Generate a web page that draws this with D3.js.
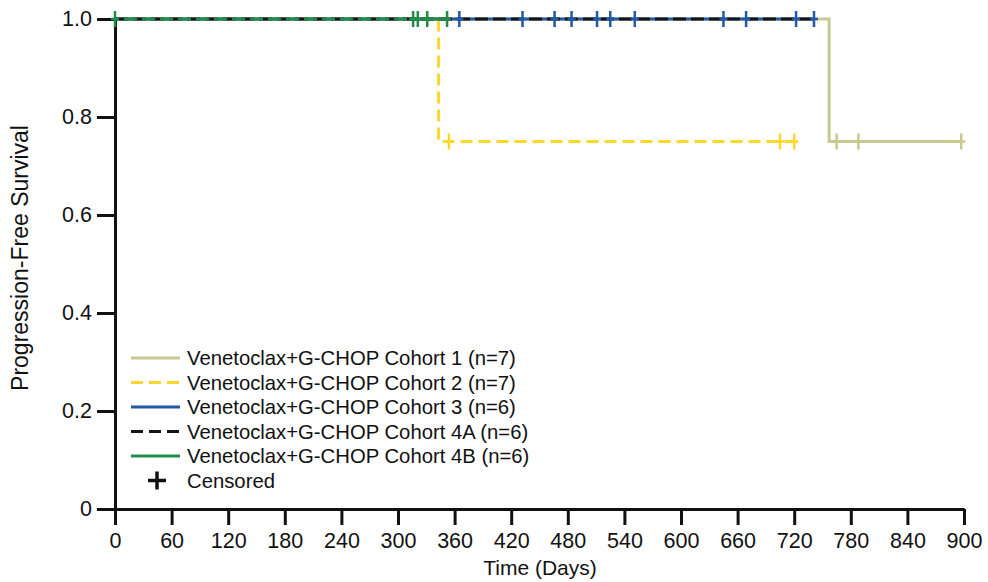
<!doctype html>
<html>
  <head>
    <meta charset="utf-8">
    <title>Progression-Free Survival</title>
    <script src="https://cdnjs.cloudflare.com/ajax/libs/d3/7.8.5/d3.min.js"></script>
    <style>
      body { margin: 0; background: #fff; }
      svg text { font-family: "Liberation Sans", Arial, Helvetica, sans-serif; fill: #111; }
    </style>
  </head>
  <body>
    <div id="chart"></div>
    <script>
      // cohort names (legend order)
      const cohortNames = [
        'Venetoclax+G-CHOP Cohort 1 (n=7)',
        'Venetoclax+G-CHOP Cohort 2 (n=7)',
        'Venetoclax+G-CHOP Cohort 3 (n=6)',
        'Venetoclax+G-CHOP Cohort 4A (n=6)',
        'Venetoclax+G-CHOP Cohort 4B (n=6)'
      ];

      // step curves: [day, survival]
      const stepsC1 = [[0, 1], [757, 0.75], [897, 0.75]];
      const stepsC2 = [[0, 1], [343, 0.75], [720, 0.75]];
      const stepsC3 = [[0, 1], [741, 1]];
      const stepsC4A = [[0, 1], [741, 1]];
      const stepsC4B = [[0, 1], [352, 1]];

      // censored times (days)
      const censorC1 = [765, 788, 897];
      const censorC2 = [354, 705, 720];
      const censorC3 = [365, 432, 466, 484, 511, 525, 551, 645, 669, 722, 741];
      const censorC4A = [];
      const censorC4B = [0, 316, 321, 331, 352];

      const xTicks = d3.range(0, 901, 60);
      const yTicks = [0, 0.2, 0.4, 0.6, 0.8, 1.0];

      // styles kept apart from the data
      const colors = ['#c7c98f', '#fdd72b', '#2358a5', '#151515', '#1f8c47'];
      const dashes = [null, '12,6', null, '13,5', '13,5'];
      const dashOffsets = [0, 0, 0, 0, 9];
      const legendDashes = [null, '12,6', null, '12,6', null];

      const allSteps = [stepsC1, stepsC2, stepsC3, stepsC4A, stepsC4B];
      const allCensor = [censorC1, censorC2, censorC3, censorC4A, censorC4B];

      const width = 988, height = 582;
      const x = d3.scaleLinear().domain([0, 900]).range([115, 964]);
      const y = d3.scaleLinear().domain([0, 1]).range([509, 19]);

      const svg = d3.select('#chart').append('svg')
        .attr('width', width)
        .attr('height', height);

      // axes
      const xAxis = svg.append('g')
        .attr('transform', `translate(0,${y(0)})`)
        .call(d3.axisBottom(x).tickValues(xTicks).tickSize(16).tickSizeOuter(0).tickPadding(8));

      const yAxis = svg.append('g')
        .attr('transform', `translate(${x(0)},0)`)
        .call(d3.axisLeft(y).tickValues(yTicks).tickSize(18).tickSizeOuter(0).tickPadding(5)
          .tickFormat(d => d === 0 ? '0' : d3.format('.1f')(d)));

      [xAxis, yAxis].forEach(g => {
        g.select('.domain').attr('stroke', '#111').attr('stroke-width', 3);
        g.selectAll('.tick line').attr('stroke', '#111').attr('stroke-width', 3);
        g.selectAll('.tick text').attr('font-size', 21.5).attr('font-family', null).attr('fill', '#111');
      });

      // axis titles
      svg.append('text')
        .attr('x', 540)
        .attr('y', 575)
        .attr('text-anchor', 'middle')
        .attr('font-size', 21)
        .text('Time (Days)');

      svg.append('text')
        .attr('transform', `translate(28,258) rotate(-90)`)
        .attr('text-anchor', 'middle')
        .attr('font-size', 23)
        .text('Progression-Free Survival');

      // KM curves
      const line = d3.line()
        .x(d => x(d[0]))
        .y(d => y(d[1]))
        .curve(d3.curveStepAfter);

      svg.append('g').selectAll('path')
        .data(allSteps)
        .join('path')
        .attr('d', d => line(d))
        .attr('fill', 'none')
        .attr('stroke', (d, i) => colors[i])
        .attr('stroke-width', 3)
        .attr('stroke-dasharray', (d, i) => dashes[i])
        .attr('stroke-dashoffset', (d, i) => dashOffsets[i]);

      // survival value at time t for a step curve
      function survAt(steps, t) {
        let s = steps[0][1];
        steps.forEach(p => { if (p[0] <= t) s = p[1]; });
        return s;
      }

      // censor marks
      const censorData = [];
      allCensor.forEach((times, i) => {
        times.forEach(t => censorData.push({ t: t, s: survAt(allSteps[i], t), i: i }));
      });

      const marks = svg.append('g').selectAll('g')
        .data(censorData)
        .join('g')
        .attr('transform', d => `translate(${x(d.t)},${y(d.s)})`)
        .attr('stroke', d => colors[d.i])
        .attr('stroke-width', 2.5);

      marks.append('line').attr('x1', 0).attr('x2', 0).attr('y1', -8).attr('y2', 8);
      marks.append('line').attr('x1', -4).attr('x2', 4).attr('y1', 0).attr('y2', 0);

      // legend
      const legend = svg.append('g');
      const rowY = i => 358 + i * 24.5;

      cohortNames.forEach((name, i) => {
        legend.append('line')
          .attr('x1', 131).attr('x2', 180)
          .attr('y1', rowY(i)).attr('y2', rowY(i))
          .attr('stroke', colors[i])
          .attr('stroke-width', 3)
          .attr('stroke-dasharray', legendDashes[i]);
        legend.append('text')
          .attr('x', 187)
          .attr('y', rowY(i))
          .attr('dy', '0.35em')
          .attr('font-size', 20.3)
          .text(name);
      });

      const cy = rowY(5);
      legend.append('line').attr('x1', 148).attr('x2', 166).attr('y1', cy).attr('y2', cy)
        .attr('stroke', '#111').attr('stroke-width', 3.5);
      legend.append('line').attr('x1', 157).attr('x2', 157).attr('y1', cy - 9).attr('y2', cy + 9)
        .attr('stroke', '#111').attr('stroke-width', 3.5);
      legend.append('text')
        .attr('x', 187)
        .attr('y', cy)
        .attr('dy', '0.35em')
        .attr('font-size', 20.3)
        .text('Censored');
    </script>
  </body>
</html>
